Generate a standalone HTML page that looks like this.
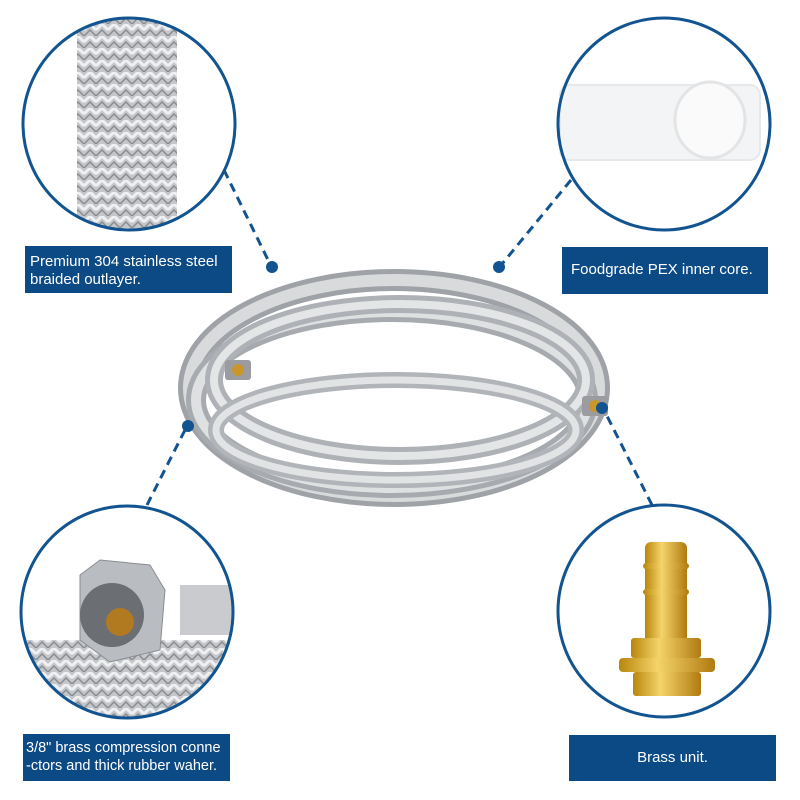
<!DOCTYPE html>
<html><head><meta charset="utf-8"><style>
body{margin:0;background:#fff;}
.box{position:absolute;background:#0b4a85;color:#fff;font-family:"Liberation Sans",sans-serif;font-size:15px;line-height:18px;box-sizing:border-box;}
</style></head><body>
<div style="position:relative;width:800px;height:800px;overflow:hidden">
<svg width="800" height="800" style="position:absolute;left:0;top:0">
<defs>
<pattern id="br" width="12" height="12" patternUnits="userSpaceOnUse">
<rect width="12" height="12" fill="#c4c6c9"/>
<path d="M0 6 L6 0 L12 6" stroke="#eef0f2" stroke-width="3" fill="none"/>
<path d="M0 12 L6 6 L12 12" stroke="#888b90" stroke-width="1.5" fill="none"/>
</pattern>
<clipPath id="c1"><circle cx="129" cy="124" r="105"/></clipPath>
<clipPath id="c3"><circle cx="127" cy="612" r="105"/></clipPath>
<linearGradient id="gold" x1="0" x2="1"><stop offset="0" stop-color="#b8860b"/><stop offset=".4" stop-color="#f5d46a"/><stop offset="1" stop-color="#b07a10"/></linearGradient>
</defs>
<!-- hose coil -->
<g fill="none">
<ellipse cx="394" cy="388" rx="205" ry="108" stroke="#9fa2a6" stroke-width="22"/>
<ellipse cx="394" cy="388" rx="205" ry="108" stroke="#d8dadc" stroke-width="12"/>
<ellipse cx="392" cy="400" rx="196" ry="88" stroke="#a7aaae" stroke-width="20"/>
<ellipse cx="392" cy="400" rx="196" ry="88" stroke="#dfe0e2" stroke-width="10"/>
<ellipse cx="400" cy="380" rx="186" ry="76" stroke="#aeb1b5" stroke-width="18"/>
<ellipse cx="400" cy="380" rx="186" ry="76" stroke="#e4e5e7" stroke-width="8"/>
<ellipse cx="396" cy="430" rx="180" ry="50" stroke="#b1b4b8" stroke-width="16"/>
<ellipse cx="396" cy="430" rx="180" ry="50" stroke="#e2e3e5" stroke-width="7"/>
</g>
<rect x="225" y="360" width="26" height="20" rx="3" fill="#9a9ca0"/><circle cx="238" cy="370" r="6" fill="#c8962a"/>
<rect x="582" y="396" width="26" height="20" rx="3" fill="#9a9ca0"/><circle cx="595" cy="406" r="6" fill="#c8962a"/>
<!-- circles -->
<g clip-path="url(#c1)"><rect x="77" y="18" width="100" height="212" fill="url(#br)"/></g>
<circle cx="129" cy="124" r="106" fill="none" stroke="#12548f" stroke-width="3"/>
<rect x="560" y="85" width="200" height="75" rx="10" fill="#f3f4f5" stroke="#e6e8ea" stroke-width="2"/>
<ellipse cx="710" cy="120" rx="35" ry="38" fill="#fafafa" stroke="#e2e4e6" stroke-width="3"/>
<circle cx="664" cy="124" r="106" fill="none" stroke="#12548f" stroke-width="3"/>
<g clip-path="url(#c3)">
<rect x="20" y="640" width="215" height="80" fill="url(#br)"/>
<rect x="180" y="585" width="60" height="50" fill="#c9cbce"/>
<polygon points="80,575 100,560 150,565 165,590 160,650 110,662 80,640" fill="#b9bcc0" stroke="#8a8d91"/>
<circle cx="112" cy="615" r="32" fill="#6b6e72"/>
<circle cx="120" cy="622" r="14" fill="#b27a20"/>
</g>
<circle cx="127" cy="612" r="106" fill="none" stroke="#12548f" stroke-width="3"/>
<rect x="645" y="542" width="42" height="102" rx="6" fill="url(#gold)"/>
<rect x="643" y="563" width="46" height="6" rx="3" fill="url(#gold)"/>
<rect x="643" y="589" width="46" height="6" rx="3" fill="url(#gold)"/>
<rect x="631" y="638" width="70" height="20" rx="3" fill="url(#gold)"/>
<rect x="619" y="658" width="96" height="14" rx="4" fill="url(#gold)"/>
<rect x="633" y="672" width="68" height="24" rx="3" fill="url(#gold)"/>
<circle cx="664" cy="611" r="106" fill="none" stroke="#12548f" stroke-width="3"/>
<!-- connectors -->
<g stroke="#12548f" stroke-width="3" stroke-dasharray="9,6" fill="none">
<line x1="224" y1="170" x2="270" y2="264"/>
<line x1="571" y1="180" x2="502" y2="264"/>
<line x1="147" y1="505" x2="186" y2="428"/>
<line x1="652" y1="505" x2="604" y2="410"/>
</g>
<g fill="#12548f"><circle cx="272" cy="267" r="6"/><circle cx="499" cy="267" r="6"/><circle cx="188" cy="426" r="6"/><circle cx="602" cy="408" r="6"/></g>
</svg>
<div class="box" style="left:25px;top:246px;width:207px;height:47px;padding:7px 0 0 5px">Premium 304 stainless steel<br>braided outlayer.</div>
<div class="box" style="left:562px;top:247px;width:206px;height:47px;padding:14px 0 0 9px">Foodgrade PEX inner core.</div>
<div class="box" style="left:23px;top:734px;width:207px;height:47px;padding:5px 0 0 3px;font-size:14.5px">3/8" brass compression conne<br>-ctors and thick rubber waher.</div>
<div class="box" style="left:569px;top:735px;width:207px;height:46px;padding:14px 0 0 0;text-align:center">Brass unit.</div>
</div>
</body></html>
